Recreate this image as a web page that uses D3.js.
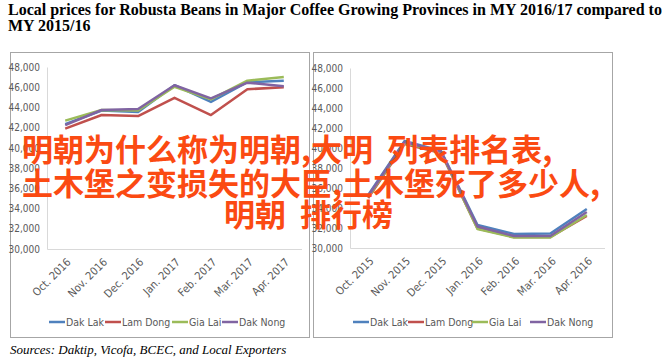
<!DOCTYPE html>
<html>
<head>
<meta charset="utf-8">
<script src="https://cdn.jsdelivr.net/npm/d3@7"></script>
<style>
  html, body { margin: 0; padding: 0; background: #fff; }
  svg { display: block; }
</style>
</head>
<body>
<svg id="chart" width="665" height="359"></svg>
<script>
// data
const seriesNames = ["Dak Lak", "Lam Dong", "Gia Lai", "Dak Nong"];
const seriesColors = ["#4f81bd", "#c0504d", "#9bbb59", "#8064a2"];

const months1617 = ["Oct. 2016", "Nov. 2016", "Dec. 2016", "Jan. 2017", "Feb. 2017", "Mar. 2017", "Apr. 2017"];
const months1516 = ["Oct. 2015", "Nov. 2015", "Dec. 2015", "Jan. 2016", "Feb. 2016", "Mar. 2016", "Apr. 2016"];

const yTicks = [30000, 32000, 34000, 36000, 38000, 40000, 42000, 44000, 46000, 48000];

// MY 2016/17
const dakLak1617   = [42350, 43700, 43550, 46200, 44550, 46500, 46650];
const lamDong1617  = [41900, 43250, 43150, 44950, 43250, 45800, 46000];
const giaLai1617   = [42700, 43750, 43700, 46050, 44800, 46650, 47000];
const dakNong1617  = [42250, 43750, 43850, 46200, 44900, 46450, 46100];

// MY 2015/16
const dakLak1516   = [35300, 40700, 39700, 32300, 31400, 31450, 33900];
const lamDong1516  = [35000, 40400, 39500, 31950, 31100, 31100, 33200];
const giaLai1516   = [35100, 40500, 39600, 31900, 31050, 31050, 33300];
const dakNong1516  = [35200, 40600, 39650, 32150, 31200, 31200, 33600];

const titleLines = ["Local prices for Robusta Beans in Major Coffee Growing Provinces in MY 2016/17 compared to", "MY 2015/16"];
const sourceText = "Sources: Daktip, Vicofa, BCEC, and Local Exporters";
const overlayLines = ["明朝为什么称为明朝,大明  列表排名表,", "土木堡之变损失的大臣,土木堡死了多少人,", "明朝  排行榜"];

const svg = d3.select("#chart");
const axisFont = "'Liberation Sans Narrow', 'Arial Narrow', 'DejaVu Sans Condensed', sans-serif";

// title
svg.append("g").selectAll("text")
  .data(titleLines)
  .join("text")
  .attr("x", 8)
  .attr("y", (d, i) => 15 + i * 16)
  .attr("font-family", "'Liberation Serif', serif")
  .attr("font-weight", "bold")
  .attr("font-size", 16)
  .attr("fill", "#000")
  .text(d => d);

function drawPanel(box, plot, months, values) {
  const g = svg.append("g");

  g.append("rect")
    .attr("x", box.x + 0.5).attr("y", box.y + 0.5)
    .attr("width", box.w).attr("height", box.h)
    .attr("fill", "#fff").attr("stroke", "#a6a6a6");

  const x = d3.scalePoint().domain(months).range([plot.left, plot.right]).padding(0.5);
  const y = d3.scaleLinear().domain([30000, 48000]).range([plot.bottom, plot.top]);

  // y axis
  const ya = g.append("g")
    .attr("transform", `translate(${plot.left},0)`)
    .call(d3.axisLeft(y).tickValues(yTicks).tickSize(0).tickPadding(7).tickFormat(d3.format(",")));
  ya.select(".domain").attr("stroke", "#d9d9d9");
  ya.selectAll("text")
    .attr("font-family", axisFont).attr("font-size", 10).attr("fill", "#595959");

  // x axis
  const xa = g.append("g")
    .attr("transform", `translate(0,${plot.bottom})`)
    .call(d3.axisBottom(x).tickSize(0).tickPadding(0));
  xa.select(".domain").attr("stroke", "#d9d9d9").attr("d", `M${plot.left + 0.5},0.5H${plot.right}`);
  xa.selectAll("text")
    .attr("font-family", axisFont).attr("font-size", 11).attr("fill", "#595959")
    .attr("text-anchor", "end")
    .attr("dy", "0.35em")
    .attr("transform", "translate(3,11) rotate(-45)");

  // lines
  const line = d3.line().x((d, i) => x(months[i])).y(d => y(d));
  g.append("g").selectAll("path")
    .data(values)
    .join("path")
    .attr("d", d => line(d))
    .attr("fill", "none")
    .attr("stroke", (d, i) => seriesColors[i])
    .attr("stroke-width", 2.5)
    .attr("stroke-linejoin", "round");

  // legend
  const lg = g.append("g").selectAll("g")
    .data(seriesNames)
    .join("g")
    .attr("transform", (d, i) => `translate(${plot.legendX[i]},${plot.legendY})`);
  lg.append("line")
    .attr("x1", 0).attr("x2", 16)
    .attr("stroke", (d, i) => seriesColors[i]).attr("stroke-width", 2.5);
  lg.append("text")
    .attr("x", 17).attr("dy", "0.35em")
    .attr("font-family", axisFont).attr("font-size", 10.5).attr("fill", "#595959")
    .text(d => d);
}

drawPanel(
  { x: 10, y: 52, w: 299, h: 285 },
  { left: 47, right: 302, top: 67, bottom: 249, legendY: 322, legendX: [49, 105, 172, 222] },
  months1617,
  [dakLak1617, lamDong1617, giaLai1617, dakNong1617]
);

drawPanel(
  { x: 313, y: 52, w: 299, h: 285 },
  { left: 350, right: 605, top: 68, bottom: 248, legendY: 322, legendX: [353, 408, 472, 530] },
  months1516,
  [dakLak1516, lamDong1516, giaLai1516, dakNong1516]
);

// source note
svg.append("text")
  .attr("x", 10).attr("y", 354)
  .attr("font-family", "'Liberation Serif', serif")
  .attr("font-style", "italic")
  .attr("font-size", 13)
  .attr("fill", "#000")
  .text(sourceText);

// overlay caption on top of the charts
svg.append("g").selectAll("text")
  .data(overlayLines)
  .join("text")
  .attr("x", (d, i) => i === 2 ? 224 : 22)
  .attr("y", (d, i) => [161, 195, 226][i])
  .attr("font-family", "'Noto Sans CJK SC', sans-serif")
  .attr("font-weight", "bold")
  .attr("font-size", 31)
  .attr("fill", "#fb4a12")
  .style("white-space", "pre")
  .text(d => d);
</script>
</body>
</html>
